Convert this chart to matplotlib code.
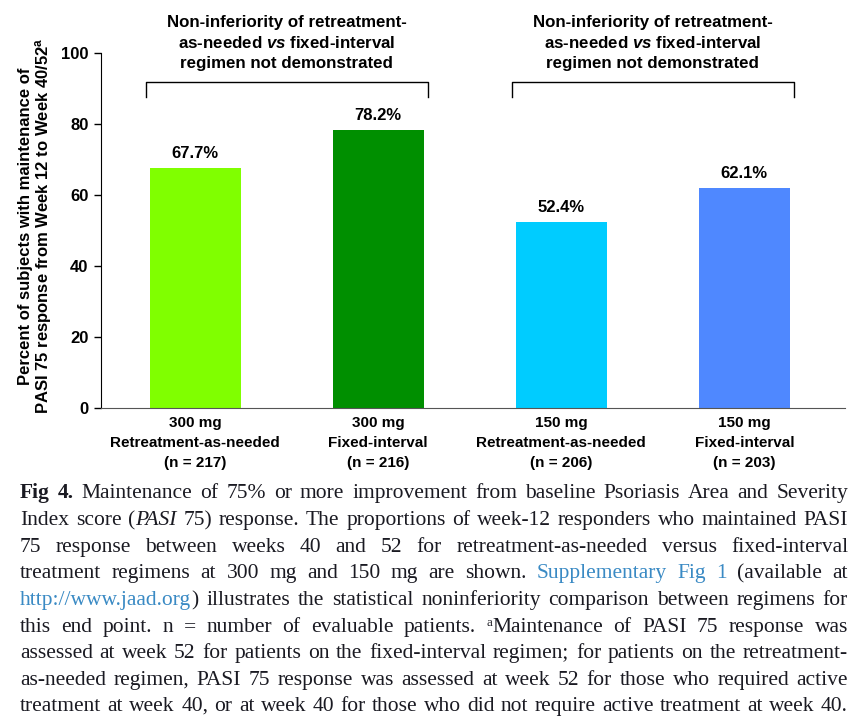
import matplotlib
matplotlib.use('Agg')
import matplotlib.pyplot as plt

# data
doses = ['300 mg', '300 mg', '150 mg', '150 mg']
regimens = ['Retreatment-as-needed', 'Fixed-interval', 'Retreatment-as-needed', 'Fixed-interval']
n_patients = [217, 216, 206, 203]
pct_maintained = [67.7, 78.2, 52.4, 62.1]
bar_colors = ['#80FF00', '#008F00', '#00CCFF', '#4F88FF']
bracket_groups = [(0, 1), (2, 3)]
bracket_text = 'Non-inferiority of retreatment-\nas-needed $\\mathit{vs}$ fixed-interval\nregimen not demonstrated'

plt.rcParams['font.family'] = ['Liberation Sans', 'DejaVu Sans']
plt.rcParams['mathtext.fontset'] = 'custom'
plt.rcParams['mathtext.rm'] = 'Liberation Sans:bold'
plt.rcParams['mathtext.it'] = 'Liberation Sans:bold:italic'

fig = plt.figure(figsize=(8.6, 7.17), dpi=100)
ax = fig.add_axes([101 / 860, 1 - 408 / 717, 744 / 860, 355 / 717])

x = list(range(len(pct_maintained)))
bw = 0.5
ax.bar(x, pct_maintained, width=bw, color=bar_colors, zorder=2)
for xi, v in zip(x, pct_maintained):
    ax.annotate('%.1f%%' % v, (xi, v), xytext=(0, 5), textcoords='offset points',
                ha='center', va='bottom', fontsize=12, fontweight='bold')

ax.set_xlim(-0.515, 3.55)
ax.set_ylim(0, 100)
ax.set_yticks([0, 20, 40, 60, 80, 100])
ax.tick_params(axis='y', labelsize=12, direction='out', length=5, width=1, pad=4)
for t in ax.get_yticklabels():
    t.set_fontweight('bold')
ax.set_xticks(x)
ax.set_xticklabels(['%s\n%s\n(n = %d)' % (d, r, n) for d, r, n in zip(doses, regimens, n_patients)],
                   fontsize=11, fontweight='bold', linespacing=1.55)
ax.tick_params(axis='x', length=0, pad=6)
ax.spines['top'].set_visible(False)
ax.spines['right'].set_visible(False)
ax.spines['bottom'].set_color('#555555')

# brackets
for a, b in bracket_groups:
    x0, x1 = a - bw / 2 - 0.02, b + bw / 2 + 0.02
    ax.plot([x0, x0, x1, x1], [87.6, 91.8, 91.8, 87.6], color='black', lw=1, clip_on=False)
    ax.text((x0 + x1) / 2, 102.8, bracket_text, ha='center', va='center', fontsize=12.2,
            fontweight='bold', linespacing=1.4, clip_on=False)

fig.text(36 / 860, 1 - 226 / 717,
         'Percent of subjects with maintenance of\nPASI 75 response from Week 12 to Week 40/52$^{\\mathregular{a}}$',
         rotation=90, ha='center', va='center', fontsize=12, fontweight='bold', linespacing=1.05)

# caption, justified word by word
caption = [
    [('Fig 4.', 'b'), (' Maintenance of 75% or more improvement from baseline Psoriasis Area and Severity', 'n')],
    [('Index score (', 'n'), ('PASI', 'i'), (' 75) response. The proportions of week-12 responders who maintained PASI', 'n')],
    [('75 response between weeks 40 and 52 for retreatment-as-needed versus fixed-interval', 'n')],
    [('treatment regimens at 300 mg and 150 mg are shown. ', 'n'), ('Supplementary Fig 1', 'l'), (' (available at', 'n')],
    [('http://www.jaad.org', 'l'), (') illustrates the statistical noninferiority comparison between regimens for', 'n')],
    [('this end point. n = number of evaluable patients. ', 'n'), ('a', 's'), ('Maintenance of PASI 75 response was', 'n')],
    [('assessed at week 52 for patients on the fixed-interval regimen; for patients on the retreatment-', 'n')],
    [('as-needed regimen, PASI 75 response was assessed at week 52 for those who required active', 'n')],
    [('treatment at week 40, or at week 40 for those who did not require active treatment at week 40.', 'n')],
]
cap_y = [492, 519, 546, 572, 599, 626, 652, 679, 705]
cap_left, cap_right = 20, 848
cap_size = 15.5


def split_words(segs):
    words = [[]]
    for txt, st in segs:
        parts = txt.split(' ')
        for i, p in enumerate(parts):
            if i > 0:
                words.append([])
            if p:
                words[-1].append((p, st))
    return [w for w in words if w]


renderer = fig.canvas.get_renderer()
for segs, ypx in zip(caption, cap_y):
    words = split_words(segs)
    objs = []
    widths = []
    for w in words:
        row = []
        wsum = 0
        for p, st in w:
            kw = dict(family='Liberation Serif', fontsize=cap_size, color='#1a1a22', va='baseline')
            dy = 0
            if st == 'b':
                kw['fontweight'] = 'bold'
            elif st == 'i':
                kw['style'] = 'italic'
            elif st == 'l':
                kw['color'] = '#3a8ac4'
            elif st == 's':
                kw['fontsize'] = cap_size * 0.6
                dy = 6
            t = fig.text(0, 1 - (ypx + 6 - dy) / 717, p, **kw)
            pw = t.get_window_extent(renderer).width
            row.append((t, wsum))
            wsum += pw
        objs.append(row)
        widths.append(wsum)
    gap = (cap_right - cap_left - sum(widths)) / max(len(words) - 1, 1)
    xc = cap_left
    for row, wd in zip(objs, widths):
        for t, off in row:
            t.set_x((xc + off) / 860)
        xc += wd + gap

fig.savefig('out.png', dpi=100)
